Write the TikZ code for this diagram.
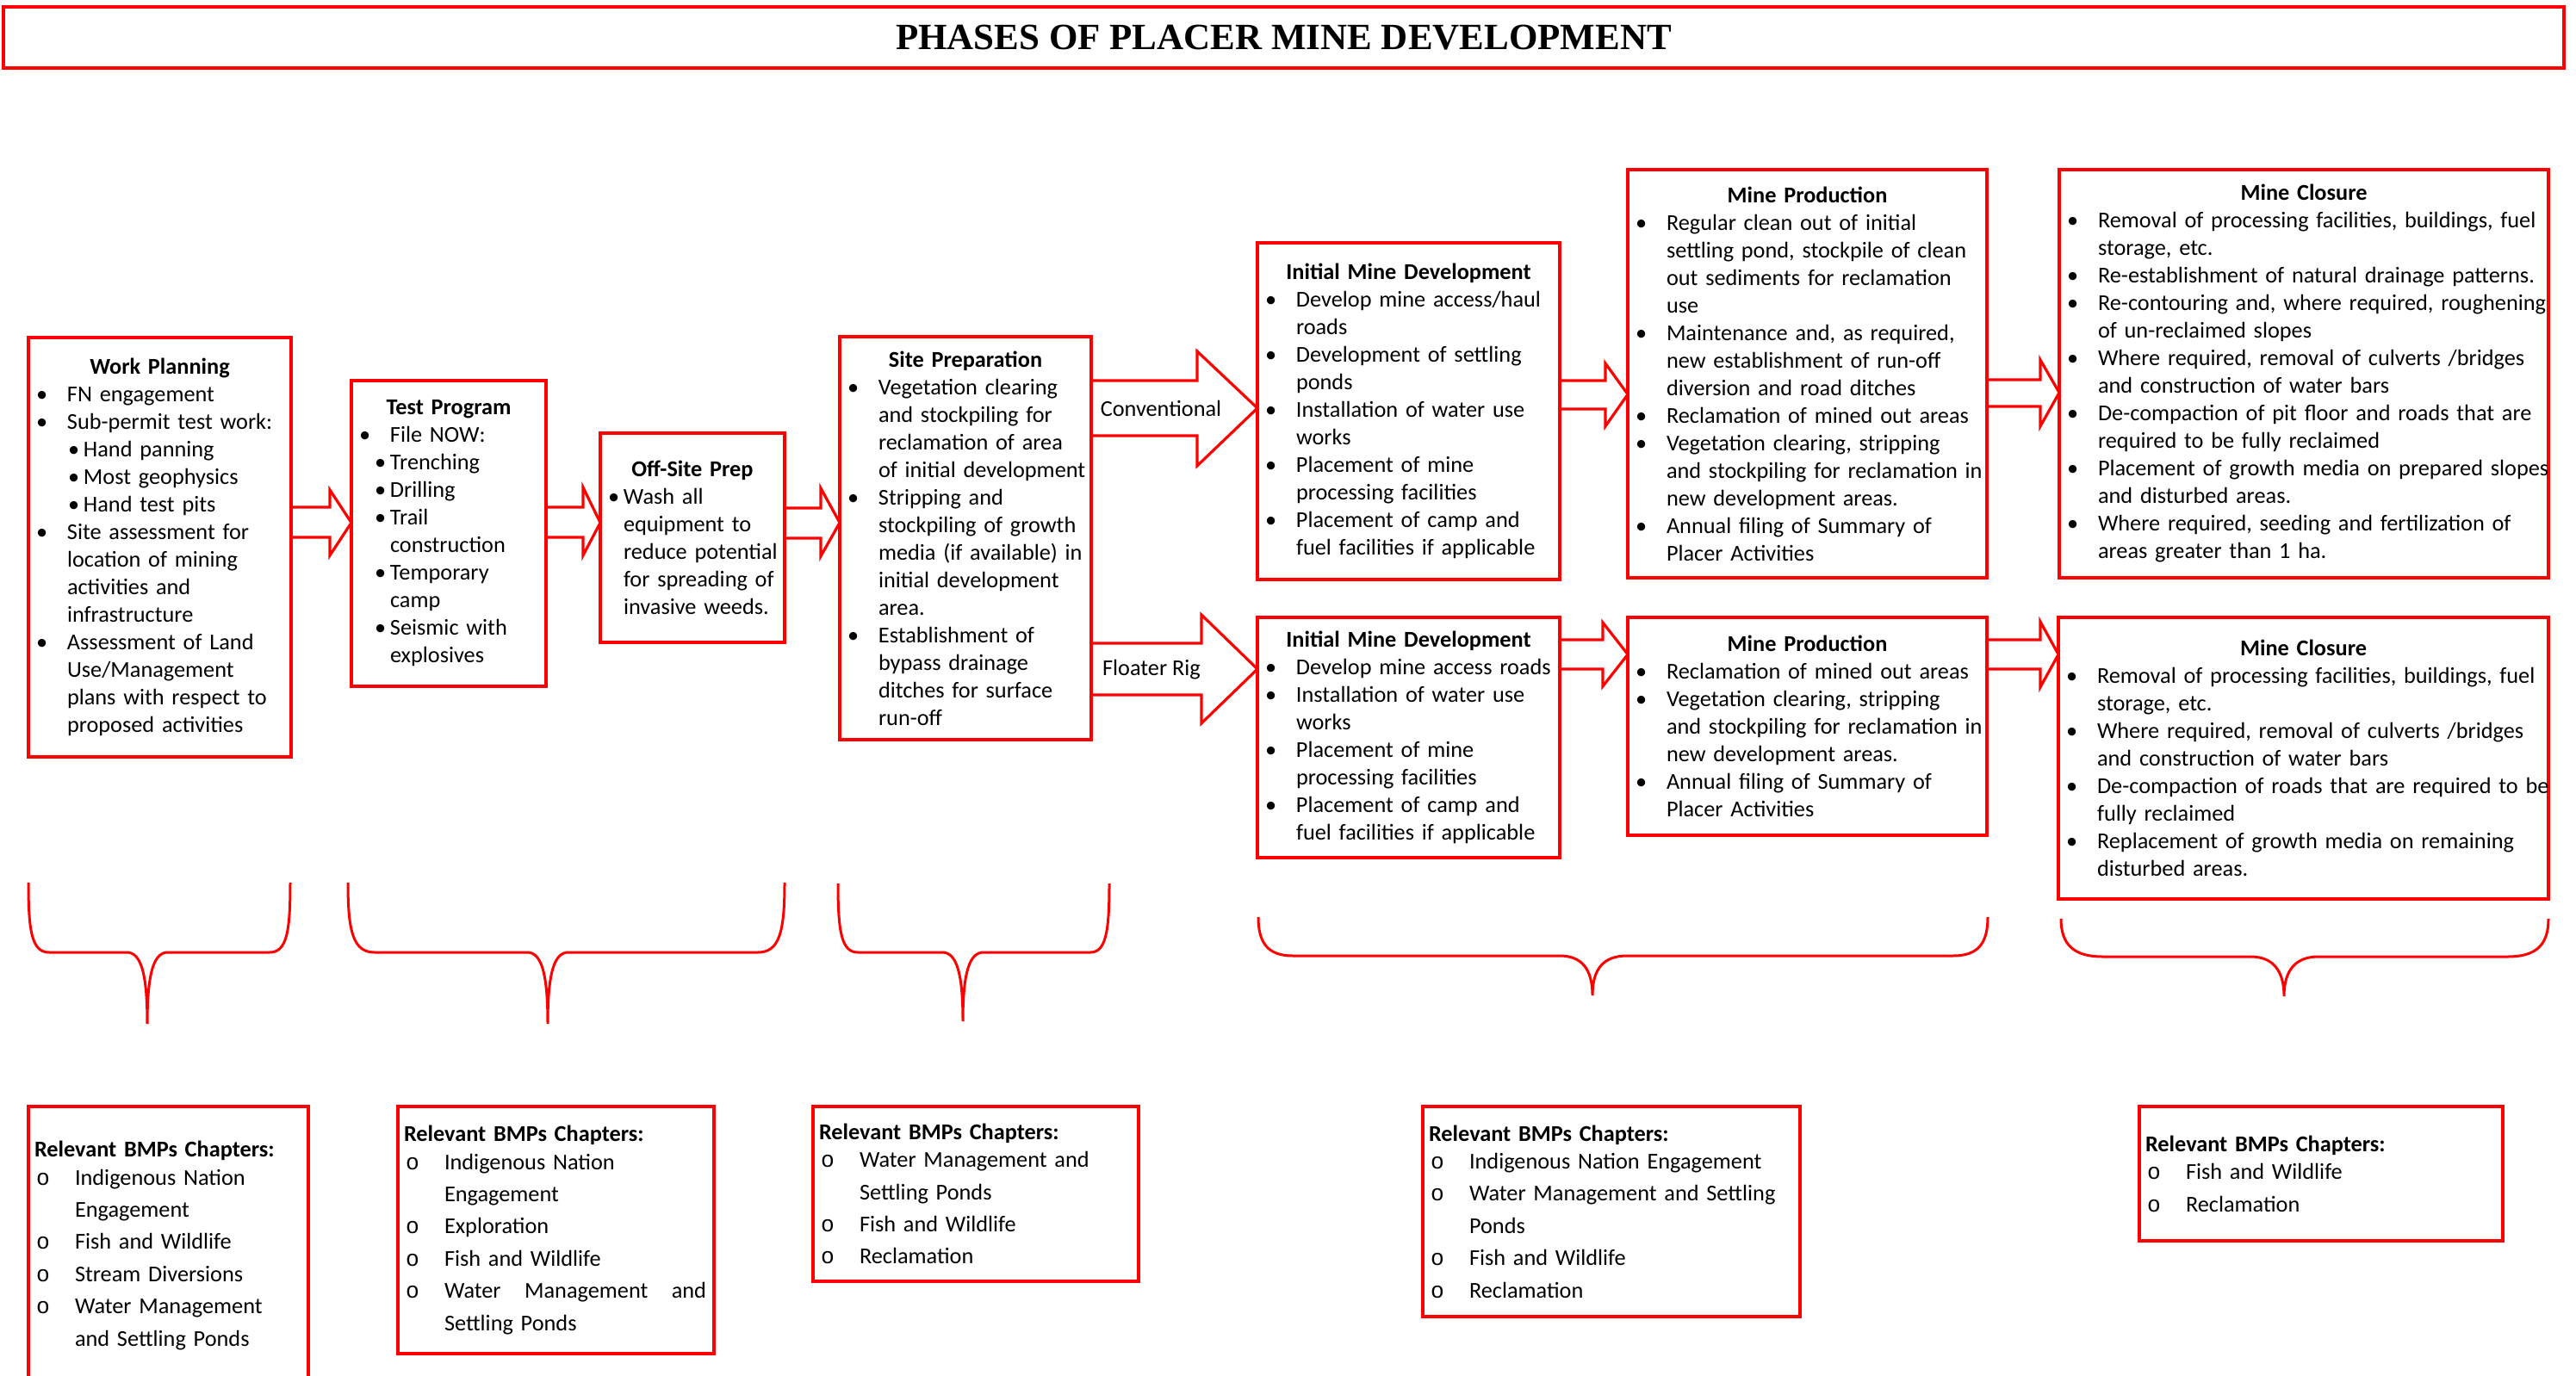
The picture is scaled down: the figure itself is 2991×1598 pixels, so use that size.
\documentclass[tikz,border=0pt]{standalone}
\usepackage{fontspec}
\setmainfont{Carlito}
\setmonofont{Liberation Mono}
\newfontfamily\titlefont{Liberation Serif}

% list lines inside the boxes
\newcommand{\boxttl}[1]{{\centering\bfseries #1\par}}
\newcommand{\bitem}[1]{\par\noindent\hspace*{4.5pt}\makebox[18pt][l]{\textbullet}\mbox{#1}}
\newcommand{\bsub}[2][13.5pt]{\par\noindent\hspace*{#1}\makebox[9pt][l]{\textbullet}\mbox{#2}}
\newcommand{\bcont}[2][22.5pt]{\par\noindent\hspace*{#1}\mbox{#2}}
\newcommand{\oitem}[1]{\par\noindent\hspace*{4.5pt}\makebox[22.5pt][l]{\ttfamily o}\mbox{#1}}
\newcommand{\bmphead}{\noindent\hspace*{3.5pt}\textbf{Relevant BMPs Chapters:}\par\vspace{-2.5pt}}

\tikzset{
  phase/.style={draw=red, line width=2pt, inner sep=0pt, outer sep=0pt, anchor=north west, font=\fontsize{13.15}{16}\selectfont},
  bmpbox/.style={phase, font=\fontsize{13.15}{18.7}\selectfont},
  titlebox/.style={draw=red, line width=2pt, inner sep=0pt, outer sep=0pt, anchor=north west, font=\titlefont\bfseries\fontsize{21.5}{26}\selectfont},
  barrow/.style={draw=red, line width=1.6pt},
  brace/.style={draw=red, line width=1.5pt},
  lbl/.style={inner sep=0pt, font=\fontsize{13.15}{16}\selectfont}
}

\begin{document}
\begin{tikzpicture}[x=0.5pt, y=-0.5pt]
\useasboundingbox (0,0) rectangle (2991,1598);

\node[titlebox, minimum width=1486.5pt, minimum height=35.5pt] (title) at (4,8) {PHASES OF PLACER MINE DEVELOPMENT};

% phases
\node[phase, text width=152.5pt, minimum height=243.5pt] (wp) at (33,392) {\boxttl{Work Planning}
\bitem{FN engagement}
\bitem{Sub-permit test work:}
\bsub[23pt]{Hand panning}
\bsub[23pt]{Most geophysics}
\bsub[23pt]{Hand test pits}
\bitem{Site assessment for}
\bcont{location of mining}
\bcont{activities and}
\bcont{infrastructure}
\bitem{Assessment of Land}
\bcont{Use/Management}
\bcont{plans with respect to}
\bcont{proposed activities}};

\node[phase, text width=113pt, minimum height=177.5pt] (tp) at (408,442) {\boxttl{Test Program}
\bitem{File NOW:}
\bsub{Trenching}
\bsub{Drilling}
\bsub{Trail}
\bcont{construction}
\bsub{Temporary}
\bcont{camp}
\bsub{Seismic with}
\bcont{explosives}};

\node[phase, text width=107pt, minimum height=121.5pt] (osp) at (697,503) {\boxttl{Off-Site Prep}
\bsub[4.5pt]{Wash all}
\bcont[13.5pt]{equipment to}
\bcont[13.5pt]{reduce potential}
\bcont[13.5pt]{for spreading of}
\bcont[13.5pt]{invasive weeds.}};

\node[phase, text width=146pt, minimum height=234pt] (sp) at (975,391) {\boxttl{Site Preparation}
\bitem{Vegetation clearing}
\bcont{and stockpiling for}
\bcont{reclamation of area}
\bcont{of initial development}
\bitem{Stripping and}
\bcont{stockpiling of growth}
\bcont{media (if available) in}
\bcont{initial development}
\bcont{area.}
\bitem{Establishment of}
\bcont{bypass drainage}
\bcont{ditches for surface}
\bcont{run-off}};

\node[phase, text width=175.5pt, minimum height=195.5pt] (imdt) at (1460,282) {\boxttl{Initial Mine Development}
\bitem{Develop mine access/haul}
\bcont{roads}
\bitem{Development of settling}
\bcont{ponds}
\bitem{Installation of water use}
\bcont{works}
\bitem{Placement of mine}
\bcont{processing facilities}
\bitem{Placement of camp and}
\bcont{fuel facilities if applicable}};

\node[phase, text width=208.5pt, minimum height=237pt] (mpt) at (1890,197) {\boxttl{Mine Production}
\bitem{Regular clean out of initial}
\bcont{settling pond, stockpile of clean}
\bcont{out sediments for reclamation}
\bcont{use}
\bitem{Maintenance and, as required,}
\bcont{new establishment of run-off}
\bcont{diversion and road ditches}
\bitem{Reclamation of mined out areas}
\bitem{Vegetation clearing, stripping}
\bcont{and stockpiling for reclamation in}
\bcont{new development areas.}
\bitem{Annual filing of Summary of}
\bcont{Placer Activities}};

\node[phase, text width=284pt, minimum height=237pt] (mct) at (2391,197) {\boxttl{Mine Closure}
\bitem{Removal of processing facilities, buildings, fuel}
\bcont{storage, etc.}
\bitem{Re-establishment of natural drainage patterns.}
\bitem{Re-contouring and, where required, roughening}
\bcont{of un-reclaimed slopes}
\bitem{Where required, removal of culverts /bridges}
\bcont{and construction of water bars}
\bitem{De-compaction of pit floor and roads that are}
\bcont{required to be fully reclaimed}
\bitem{Placement of growth media on prepared slopes}
\bcont{and disturbed areas.}
\bitem{Where required, seeding and fertilization of}
\bcont{areas greater than 1 ha.}};

\node[phase, text width=175.5pt, minimum height=139.5pt] (imdb) at (1460,717) {\boxttl{Initial Mine Development}
\bitem{Develop mine access roads}
\bitem{Installation of water use}
\bcont{works}
\bitem{Placement of mine}
\bcont{processing facilities}
\bitem{Placement of camp and}
\bcont{fuel facilities if applicable}};

\node[phase, text width=208.5pt, minimum height=126.5pt] (mpb) at (1890,717) {\boxttl{Mine Production}
\bitem{Reclamation of mined out areas}
\bitem{Vegetation clearing, stripping}
\bcont{and stockpiling for reclamation in}
\bcont{new development areas.}
\bitem{Annual filing of Summary of}
\bcont{Placer Activities}};

\node[phase, text width=284.5pt, minimum height=163.5pt] (mcb) at (2390,717) {\boxttl{Mine Closure}
\bitem{Removal of processing facilities, buildings, fuel}
\bcont{storage, etc.}
\bitem{Where required, removal of culverts /bridges}
\bcont{and construction of water bars}
\bitem{De-compaction of roads that are required to be}
\bcont{fully reclaimed}
\bitem{Replacement of growth media on remaining}
\bcont{disturbed areas.}};

% block arrows
\draw[barrow] (wp.east |- 0,589) -- (383,589) -- (383,569) -- (tp.west |- 0,607) -- (383,645) -- (383,624) -- (wp.east |- 0,624);
\draw[barrow] (tp.east |- 0,589) -- (677,589) -- (677,566) -- (osp.west |- 0,607) -- (677,645) -- (677,624) -- (tp.east |- 0,624);
\draw[barrow] (osp.east |- 0,590) -- (953,590) -- (953,567) -- (sp.west |- 0,607) -- (953,646) -- (953,625) -- (osp.east |- 0,625);
\draw[barrow] (sp.east |- 0,442) -- (1390,442) -- (1390,408) -- (imdt.west |- 0,474) -- (1390,541) -- (1390,506) -- (sp.east |- 0,506);
\draw[barrow] (sp.east |- 0,747) -- (1395,747) -- (1395,714) -- (imdb.west |- 0,777) -- (1395,840) -- (1395,807) -- (sp.east |- 0,807);
\draw[barrow] (imdt.east |- 0,442) -- (1864,442) -- (1864,422) -- (mpt.west |- 0,458) -- (1864,495) -- (1864,475) -- (imdt.east |- 0,475);
\draw[barrow] (mpt.east |- 0,441) -- (2369,441) -- (2369,418) -- (mct.west |- 0,456) -- (2369,495) -- (2369,472) -- (mpt.east |- 0,472);
\draw[barrow] (imdb.east |- 0,743) -- (1861,743) -- (1861,723) -- (mpb.west |- 0,760) -- (1861,797) -- (1861,777) -- (imdb.east |- 0,777);
\draw[barrow] (mpb.east |- 0,743) -- (2369,743) -- (2369,722) -- (mcb.west |- 0,760) -- (2369,798) -- (2369,777) -- (mpb.east |- 0,777);
\node[lbl] (conv) at (1348,474) {Conventional};
\node[lbl] (floater) at (1337,778) {Floater Rig};

% braces
\draw[brace] (33,1025) .. controls (33,1082) and (37,1106) .. (57,1106) -- (147,1106) .. controls (163,1106) and (171,1128) .. (171,1189) .. controls (171,1128) and (179,1106) .. (195,1106) -- (313,1106) .. controls (333,1106) and (337,1082) .. (337,1025);
\draw[brace] (404,1025) .. controls (404,1082) and (410,1106) .. (435,1106) -- (612,1106) .. controls (628,1106) and (636,1128) .. (636,1189) .. controls (636,1128) and (644,1106) .. (660,1106) -- (880,1106) .. controls (905,1106) and (911,1082) .. (911,1025);
\draw[brace] (973,1026) .. controls (973,1082) and (977,1106) .. (996,1106) -- (1094,1106) .. controls (1110,1106) and (1118,1128) .. (1118,1186) .. controls (1118,1128) and (1126,1106) .. (1142,1106) -- (1266,1106) .. controls (1284,1106) and (1288,1082) .. (1288,1026);
\draw[brace] (1461,1065) .. controls (1461,1095) and (1472,1110) .. (1501,1110) -- (1811,1110) .. controls (1836,1110) and (1849,1125) .. (1849,1156) .. controls (1849,1125) and (1862,1110) .. (1889,1110) -- (2268,1110) .. controls (2297,1110) and (2308,1095) .. (2308,1065);
\draw[brace] (2393,1067) .. controls (2393,1097) and (2408,1111) .. (2441,1111) -- (2613,1111) .. controls (2638,1111) and (2652,1126) .. (2652,1157) .. controls (2652,1126) and (2666,1111) .. (2692,1111) -- (2912,1111) .. controls (2945,1111) and (2959,1097) .. (2959,1067);

% relevant BMPs chapters
\node[bmpbox, text width=162.5pt, minimum height=161.5pt] (bmpa) at (33,1285) {\bmphead
\oitem{Indigenous Nation}
\bcont[27pt]{Engagement}
\oitem{Fish and Wildlife}
\oitem{Stream Diversions}
\oitem{Water Management}
\bcont[27pt]{and Settling Ponds}};

\node[bmpbox, text width=183.5pt, minimum height=143.5pt] (bmpb) at (462,1285) {\bmphead
\oitem{Indigenous Nation}
\bcont[27pt]{Engagement}
\oitem{Exploration}
\oitem{Fish and Wildlife}
\oitem{\makebox[152pt][l]{Water\hfill Management\hfill and}}
\bcont[27pt]{Settling Ponds}};

\node[bmpbox, text width=189pt, minimum height=101.5pt] (bmpc) at (944,1285) {\bmphead
\oitem{Water Management and}
\bcont[27pt]{Settling Ponds}
\oitem{Fish and Wildlife}
\oitem{Reclamation}};

\node[bmpbox, text width=219pt, minimum height=122pt] (bmpd) at (1652,1285) {\bmphead
\oitem{Indigenous Nation Engagement}
\oitem{Water Management and Settling}
\bcont[27pt]{Ponds}
\oitem{Fish and Wildlife}
\oitem{Reclamation}};

\node[bmpbox, text width=211pt, minimum height=78pt] (bmpe) at (2484,1285) {\bmphead
\oitem{Fish and Wildlife}
\oitem{Reclamation}};

\end{tikzpicture}
\end{document}
